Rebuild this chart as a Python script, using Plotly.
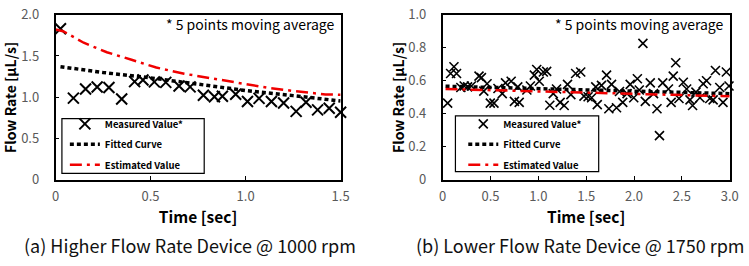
import plotly.graph_objects as go

# ---------------- data: (a) Higher Flow Rate Device @ 1000 rpm ----------------
a_time = [0.026, 0.094, 0.158, 0.219, 0.281, 0.348, 0.416, 0.46, 0.52, 0.58,
          0.65, 0.708, 0.778, 0.836, 0.878, 0.948, 1.01, 1.071, 1.136, 1.2,
          1.266, 1.318, 1.379, 1.44, 1.5]
a_meas = [1.83, 0.99, 1.10, 1.125, 1.118, 0.98, 1.19, 1.21, 1.186, 1.18,
          1.137, 1.126, 1.024, 1.006, 1.013, 1.036, 0.95, 0.987, 0.95, 0.93,
          0.83, 0.94, 0.848, 0.867, 0.818]
a_fit_t = [0.026, 0.25, 0.5, 0.75, 1.0, 1.25, 1.5]
a_fit_v = [1.37, 1.30, 1.235, 1.158, 1.082, 1.02, 0.955]
a_est_t = [0.0, 0.04, 0.148, 0.27, 0.40, 0.53, 0.677, 0.815, 0.96, 1.11, 1.266, 1.42, 1.5]
a_est_v = [1.82, 1.80, 1.66, 1.545, 1.454, 1.36, 1.285, 1.23, 1.173, 1.117, 1.072, 1.035, 1.03]

# ---------------- data: (b) Lower Flow Rate Device @ 1750 rpm ----------------
b_time = [0.052, 0.083, 0.118, 0.145, 0.19, 0.225, 0.26, 0.30, 0.38, 0.405,
          0.43, 0.464, 0.498, 0.536, 0.578, 0.623, 0.657, 0.716, 0.75, 0.785,
          0.80, 0.88, 0.917, 0.958, 0.983, 1.01, 1.052, 1.087, 1.12, 1.156,
          1.19, 1.228, 1.27, 1.305, 1.34, 1.39, 1.443, 1.477, 1.52, 1.557,
          1.60, 1.616, 1.66, 1.713, 1.737, 1.765, 1.817, 1.848, 1.882, 1.927,
          1.96, 1.997, 2.035, 2.055, 2.093, 2.118, 2.17, 2.204, 2.24, 2.266,
          2.30, 2.36, 2.388, 2.41, 2.436, 2.47, 2.515, 2.55, 2.585, 2.612,
          2.647, 2.689, 2.723, 2.758, 2.792, 2.827, 2.851, 2.896, 2.93, 2.965,
          2.993]
b_meas = [0.465, 0.644, 0.685, 0.644, 0.559, 0.568, 0.563, 0.568, 0.628, 0.619,
          0.537, 0.582, 0.465, 0.465, 0.553, 0.522, 0.587, 0.597, 0.475, 0.563,
          0.469, 0.544, 0.568, 0.634, 0.668, 0.597, 0.653, 0.657, 0.452, 0.522,
          0.550, 0.469, 0.450, 0.578, 0.516, 0.644, 0.653, 0.507, 0.503, 0.497,
          0.563, 0.456, 0.572, 0.634, 0.431, 0.578, 0.437, 0.535, 0.469, 0.522,
          0.578, 0.497, 0.612, 0.544, 0.826, 0.475, 0.587, 0.522, 0.431, 0.268,
          0.587, 0.550, 0.469, 0.628, 0.709, 0.493, 0.591, 0.550, 0.484, 0.450,
          0.531, 0.497, 0.582, 0.600, 0.493, 0.484, 0.662, 0.559, 0.469, 0.653,
          0.568]
b_fit_t = [0.03, 1.0, 2.0, 3.0]
b_fit_v = [0.567, 0.552, 0.537, 0.522]
b_est_t = [0.03, 1.0, 2.0, 3.0]
b_est_v = [0.550, 0.535, 0.520, 0.506]

a_xticks = [0, 0.5, 1.0, 1.5]
a_xtext = ["0", "0.5", "1.0", "1.5"]
a_yticks = [0, 0.5, 1.0, 1.5, 2.0]
a_ytext = ["0", "0.5", "1.0", "1.5", "2.0"]
b_xticks = [0, 0.5, 1.0, 1.5, 2.0, 2.5, 3.0]
b_xtext = ["0", "0.5", "1.0", "1.5", "2.0", "2.5", "3.0"]
b_yticks = [0, 0.2, 0.4, 0.6, 0.8, 1.0]
b_ytext = ["0", "0.2", "0.4", "0.6", "0.8", "1.0"]

names = ["Measured Value*", "Fitted Curve", "Estimated Value"]
captions = ["(a) Higher Flow Rate Device @ 1000 rpm", "(b) Lower Flow Rate Device @ 1750 rpm"]
note = "* 5 points moving average"

FONT = "Noto Sans CJK JP"
W, H = 749, 266

def px_x(p):
    return p / W

def px_y(p):
    return 1 - p / H

fig = go.Figure()

red_dash = "12px,5px,3px,5px"
dot = "4px,3px"
RED = "#f00000"

# (a)
fig.add_trace(go.Scatter(x=a_time, y=a_meas, mode="markers", name=names[0], legendgroup="a1",
                         marker=dict(symbol="x-thin", size=11, line=dict(width=2, color="black"), color="black"),
                         xaxis="x", yaxis="y", legend="legend", cliponaxis=False))
fig.add_trace(go.Scatter(x=a_fit_t, y=a_fit_v, mode="lines", name=names[1], legendgroup="a2",
                         line=dict(color="black", width=3.5, dash=dot),
                         xaxis="x", yaxis="y", legend="legend"))
fig.add_trace(go.Scatter(x=a_est_t, y=a_est_v, mode="lines", name=names[2], legendgroup="a3",
                         line=dict(color=RED, width=2.5, dash=red_dash),
                         xaxis="x", yaxis="y", legend="legend"))
# (b)
fig.add_trace(go.Scatter(x=b_time, y=b_meas, mode="markers", name=names[0], legendgroup="b1",
                         marker=dict(symbol="x-thin", size=9, line=dict(width=1.6, color="black"), color="black"),
                         xaxis="x2", yaxis="y2", legend="legend2", cliponaxis=False))
fig.add_trace(go.Scatter(x=b_fit_t, y=b_fit_v, mode="lines", name=names[1], legendgroup="b2",
                         line=dict(color="black", width=3.5, dash=dot),
                         xaxis="x2", yaxis="y2", legend="legend2"))
fig.add_trace(go.Scatter(x=b_est_t, y=b_est_v, mode="lines", name=names[2], legendgroup="b3",
                         line=dict(color=RED, width=2.5, dash=red_dash),
                         xaxis="x2", yaxis="y2", legend="legend2"))

ydom = [px_y(183), px_y(5)]
common_axis = dict(showline=True, linecolor="black", linewidth=1.5, mirror=True,
                   showgrid=False, zeroline=False, ticks="inside", ticklen=4,
                   tickcolor="black", tickwidth=1, ticklabeloverflow="allow",
                   tickfont=dict(family=FONT, size=13, color="#595959"))
xtitle = dict(text="<b>Time [sec]</b>", font=dict(family=FONT, size=15.5, color="black"), standoff=5)
ytitle_a = dict(text="<b>Flow Rate [µL/s]</b>", font=dict(family=FONT, size=14, color="black"), standoff=11)
ytitle_b = dict(text="<b>Flow Rate [µL/s]</b>", font=dict(family=FONT, size=14, color="black"), standoff=0)
legfont = dict(family=FONT, size=9.5, color="black", weight="bold")

fig.update_layout(
    width=W, height=H,
    margin=dict(l=0, r=0, t=0, b=0),
    paper_bgcolor="white", plot_bgcolor="white",
    font=dict(family=FONT, color="black"),
    xaxis=dict(common_axis, domain=[px_x(51.5), px_x(342)], range=[0, 1.5],
               tickvals=a_xticks, ticktext=a_xtext, anchor="y",
               ticklabelstandoff=4, title=xtitle),
    yaxis=dict(common_axis, domain=ydom, range=[0, 2.0],
               tickvals=a_yticks, ticktext=a_ytext, anchor="x",
               ticklabelstandoff=12, title=ytitle_a),
    xaxis2=dict(common_axis, domain=[px_x(446), px_x(738.5)], range=[0, 3.0],
                tickvals=b_xticks, ticktext=b_xtext, anchor="y2",
                ticklabelstandoff=4, title=xtitle),
    yaxis2=dict(common_axis, domain=ydom, range=[0, 1.0],
                tickvals=b_yticks, ticktext=b_ytext, anchor="x2",
                ticklabelstandoff=12, title=ytitle_b),
    legend=dict(x=px_x(61), y=px_y(107), xanchor="left", yanchor="top",
                bgcolor="rgba(0,0,0,0)", borderwidth=0, font=legfont, tracegroupgap=1.5),
    legend2=dict(x=px_x(467), y=px_y(107), xanchor="left", yanchor="top",
                 bgcolor="rgba(0,0,0,0)", borderwidth=0, font=legfont, tracegroupgap=1.5),
    shapes=[
        dict(type="rect", xref="paper", yref="paper", x0=px_x(58), x1=px_x(203),
             y0=px_y(176), y1=px_y(117), line=dict(color="black", width=1.2),
             fillcolor="white", layer="below"),
        dict(type="rect", xref="paper", yref="paper", x0=px_x(459), x1=px_x(605),
             y0=px_y(174), y1=px_y(114), line=dict(color="black", width=1.2),
             fillcolor="white", layer="below"),
    ],
    annotations=[
        dict(text=note, xref="paper", yref="paper", x=px_x(338), y=px_y(15),
             xanchor="right", yanchor="middle", showarrow=False,
             font=dict(family=FONT, size=14, color="black")),
        dict(text=note, xref="paper", yref="paper", x=px_x(735), y=px_y(15),
             xanchor="right", yanchor="middle", showarrow=False,
             font=dict(family=FONT, size=14, color="black")),
        dict(text=captions[0], xref="paper", yref="paper", x=px_x(189), y=px_y(253),
             xanchor="center", yanchor="middle", showarrow=False,
             font=dict(family=FONT, size=18, color="#111111")),
        dict(text=captions[1], xref="paper", yref="paper", x=px_x(586), y=px_y(253),
             xanchor="center", yanchor="middle", showarrow=False,
             font=dict(family=FONT, size=18, color="#111111")),
    ],
)

fig.write_html("out.html", config={"displayModeBar": False},
               post_script="document.body.style.margin='0px';document.body.style.overflow='hidden';")
